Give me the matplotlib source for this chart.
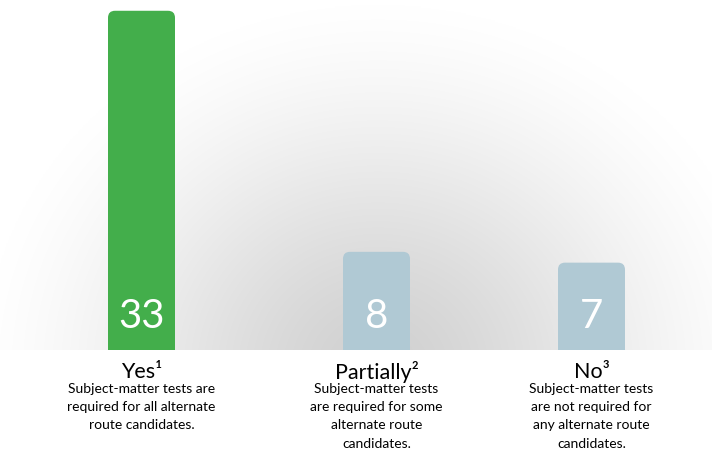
import numpy as np
import matplotlib
matplotlib.use("Agg")
import matplotlib.pyplot as plt
from matplotlib.patches import FancyBboxPatch
from matplotlib.transforms import IdentityTransform, blended_transform_factory

# ---- data ----
categories = ["Yes", "Partially", "No"]
superscripts = ["¹", "²", "³"]
values = [33, 8, 7]
descriptions = [
    "Subject-matter tests are\nrequired for all alternate\nroute candidates.",
    "Subject-matter tests\nare required for some\nalternate route\ncandidates.",
    "Subject-matter tests\nare not required for\nany alternate route\ncandidates.",
]

# ---- layout / style ----
W, H, DPI = 712, 457, 100
base_px = 350  # baseline from top
bar_centers = [141.5, 376.5, 591.5]
bar_width = 67
colors = ["#43ae4b", "#b0c9d4"]
bar_colors = [colors[0], colors[1], colors[1]]
font = "Lato"

fig = plt.figure(figsize=(W / DPI, H / DPI), dpi=DPI)
fig.patch.set_facecolor("white")

ax_rect = [0, (H - base_px) / H, 1, base_px / H]

# background radial gradient
bg = fig.add_axes(ax_rect)
gx = np.linspace(0, W, 500)
gy = np.linspace(0, base_px, 300)
X, Y = np.meshgrid(gx, gy)
cx, cy = 378, 370
r = np.sqrt(((X - cx) / 395) ** 2 + ((Y - cy) / 365) ** 2)
t = np.clip(r, 0, 1)
t = t * t * (3 - 2 * t) * 0.5 + t * 0.5
shade = 0.815 + (1.0 - 0.815) * t
img = np.dstack([shade, shade, shade])
bg.imshow(img, extent=(0, W, base_px, 0), aspect="auto", interpolation="bilinear")
bg.set_xlim(0, W)
bg.set_ylim(base_px, 0)
bg.axis("off")

ax = fig.add_axes(ax_rect)
ax.set_facecolor("none")
p = 0.875
ax.set_yscale("function", functions=(lambda v: np.sign(v) * np.abs(v) ** p,
                                     lambda v: np.sign(v) * np.abs(v) ** (1 / p)))
ax.set_xlim(0, W)
ax.set_ylim(0, 34.2)
ax.axis("off")

bars = ax.bar(bar_centers, values, width=bar_width, color=bar_colors)

rad = 7
for b, c in zip(bars, bar_colors):
    b.set_visible(False)
    (x0, y0) = ax.transData.transform((b.get_x(), 0))
    (x1, y1) = ax.transData.transform((b.get_x() + b.get_width(), b.get_height()))
    patch = FancyBboxPatch((x0, y0 - 2 * rad), x1 - x0, (y1 - y0) + 2 * rad,
                           boxstyle=f"round,pad=0,rounding_size={rad}",
                           transform=IdentityTransform(), facecolor=c, edgecolor="none")
    ax.add_patch(patch)

trans = blended_transform_factory(ax.transData, ax.transAxes)
for xc, v in zip(bar_centers, values):
    ax.text(xc, (base_px - 316) / base_px, str(v), transform=trans, ha="center", va="center",
            color="white", fontsize=29, family=font, fontweight="normal")

for xc, cat, sup, desc in zip(bar_centers, categories, superscripts, descriptions):
    ax.text(xc, -(372 - base_px) / base_px, cat + sup, transform=trans, ha="center", va="center",
            color="black", fontsize=15.5, family=font, clip_on=False)
    ax.text(xc, -(383 - base_px) / base_px, desc, transform=trans, ha="center", va="top",
            color="black", fontsize=10, family=font, linespacing=1.62, clip_on=False)

fig.savefig("out.png", dpi=DPI, facecolor="white")
